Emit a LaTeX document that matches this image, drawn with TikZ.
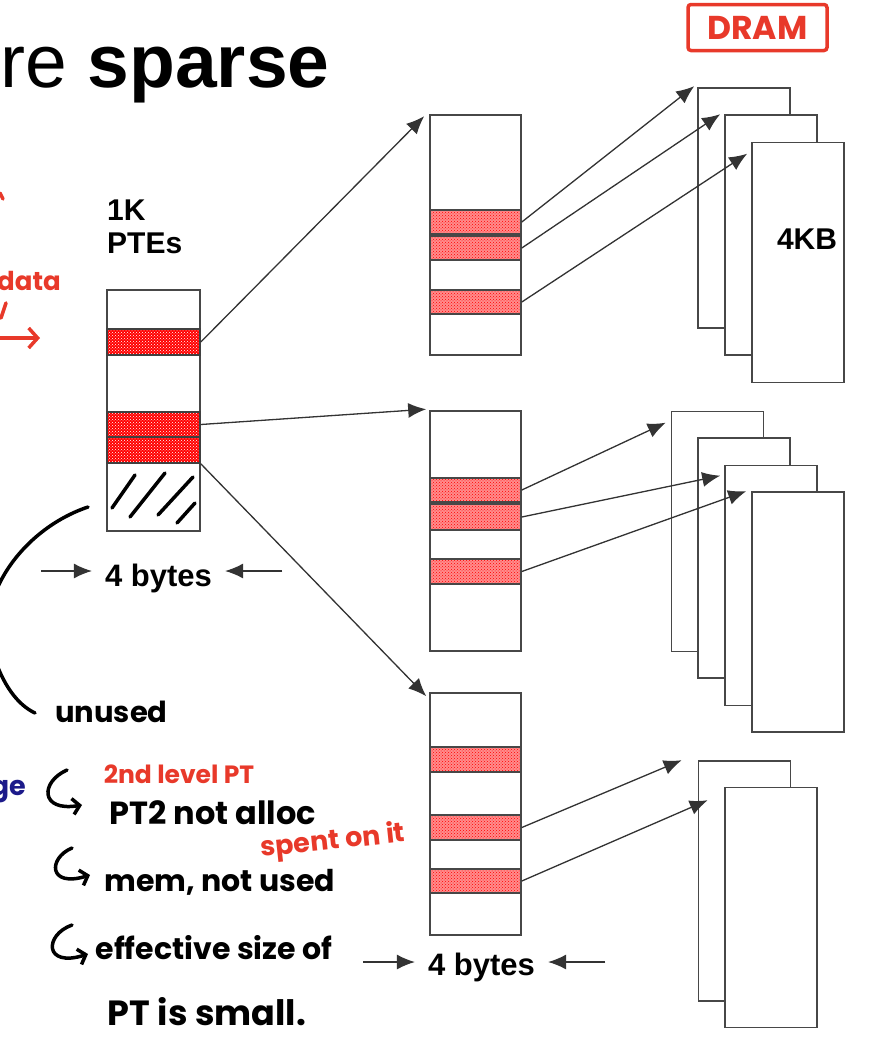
\documentclass[tikz,border=0pt]{standalone}
\usepackage{fontspec}
\setmainfont{Liberation Sans}
\newfontfamily\handfont{Poppins}
\usetikzlibrary{arrows.meta,patterns}
\definecolor{pen}{HTML}{E8392A}
\definecolor{ink}{HTML}{1C1A8A}

\begin{document}
\begin{tikzpicture}[x=1pt,y=-1pt,
  tbl/.style={draw=black!72, line width=1.6pt, fill=white, rectangle, minimum width=91pt, minimum height=240pt, inner sep=0pt},
  pg/.style={tbl, minimum width=92pt},
  hot/.style={draw=black!75, line width=1.6pt, rectangle, minimum width=93pt, inner sep=0pt, preaction={fill=red}, pattern=crosshatch dots, pattern color=white},
  warm/.style={draw=black!72, line width=1.6pt, rectangle, minimum width=91pt, inner sep=0pt, preaction={fill=red!45}, pattern=crosshatch dots, pattern color=red},
  lbl/.style={font=\bfseries\fontsize{30}{33}\selectfont, inner sep=0pt},
  ptr/.style={-{Latex[length=18pt,width=15pt]}, draw=black!80, fill=black, line width=1.3pt},
  hand/.style={line width=3.5pt, line cap=round, line join=round},
  note/.style={font=\handfont\bfseries\fontsize{#1}{#1}\selectfont, inner sep=0pt}]
\useasboundingbox (0,0) rectangle (885,1063);

\node[anchor=base west, inner sep=0pt, font=\fontsize{75}{80}\selectfont] (title) at (0,87) {re \textbf{sparse}};

\node[tbl, minimum width=93pt, minimum height=241pt] (t0) at (153.5,410.5) {};
\node[hot, minimum height=26pt] (p1) at (153.5,342) {};
\node[hot, minimum height=25pt] (p2) at (153.5,424.5) {};
\node[hot, minimum height=26pt] (p3) at (153.5,450) {};
\node[lbl, align=left, anchor=north west] (n0) at (107,200) {1K\\PTEs};

\node[lbl, font=\bfseries\fontsize{31}{33}\selectfont, inner xsep=13pt, anchor=base] (w1) at (158.5,586) {4 bytes};
\coordinate (w1l) at (41,571);
\coordinate (w1r) at (282,571);
\draw[ptr] (w1l) -- (w1l -| w1.west);
\draw[ptr] (w1r) -- (w1r -| w1.east);

\node[tbl] (ta) at (475.5,235) {};
\node[warm, minimum height=24pt] (ra1) at (475.5,222) {};
\node[warm, minimum height=24pt] (ra2) at (475.5,248) {};
\node[warm, minimum height=24pt] (ra3) at (475.5,302) {};

\node[tbl] (tb) at (475.5,531) {};
\node[warm, minimum height=24pt] (rb1) at (475.5,490) {};
\node[warm, minimum height=26pt] (rb2) at (475.5,517) {};
\node[warm, minimum height=25pt] (rb3) at (475.5,571.5) {};

\node[tbl, minimum height=242pt] (tc) at (475.5,814) {};
\node[warm, minimum height=25pt] (rc1) at (475.5,759.5) {};
\node[warm, minimum height=25pt] (rc2) at (475.5,827.5) {};
\node[warm, minimum height=24pt] (rc3) at (475.5,881) {};

\node[lbl, font=\bfseries\fontsize{31}{33}\selectfont, inner xsep=13pt, anchor=base] (w2) at (481.5,975) {4 bytes};
\coordinate (w2l) at (363,962);
\coordinate (w2r) at (605,962);
\draw[ptr] (w2l) -- (w2l -| w2.west);
\draw[ptr] (w2r) -- (w2r -| w2.east);

\node[pg] (a1) at (744,208) {};
\node[pg] (a2) at (771,235) {};
\node[pg] (a3) at (798,262.5) {};
\node[lbl] (kb) at (807,239) {4KB};

\node[pg] (b1) at (717.5,531.5) {};
\node[pg] (b2) at (744,558) {};
\node[pg] (b3) at (771,585.5) {};
\node[pg] (b4) at (798,612) {};

\node[pg] (c1) at (744.5,881) {};
\node[pg] (c2) at (771,907.5) {};

\draw[ptr] (p1.east) -- ([shift={(-5,2)}]ta.north west);
\draw[ptr] (p2.east) -- ([shift={(-3,-1)}]tb.north west);
\draw[ptr] (p3.south east) -- ([shift={(-3,4)}]tc.north west);
\draw[ptr] (ra1.east) -- ([shift={(-3,-1)}]a1.north west);
\draw[ptr] (ra2.east) -- ([shift={(-4,0)}]a2.north west);
\draw[ptr] (ra3.east) -- ([shift={(-4,12)}]a3.north west);
\draw[ptr] (rb1.east) -- ([shift={(-5,12)}]b1.north west);
\draw[ptr] (rb2.east) -- ([shift={(-4,11)}]b3.north west);
\draw[ptr] (rb3.east) -- ([shift={(-5,0)}]b4.north west);
\draw[ptr] (rc2.east) -- ([shift={(-16,0)}]c1.north west);
\draw[ptr] (rc3.east) -- ([shift={(10,40)}]c1.north west);

\draw[hand] (112,508) -- (135,475);
\draw[hand] (130,517) -- (165,473);
\draw[hand] (158,515) -- (193,477);
\draw[hand] (177,523) -- (195,503);

\node[draw=pen, line width=3.5pt, rounded corners=3pt, minimum width=139pt, minimum height=46pt, note=33, text=pen] (dram) at (757.5,27.5) {DRAM};

\node[note=26, text=pen, anchor=west] (data) at (-3,281) {data};
\draw[hand, pen] (0,193) -- (3,199);
\draw[hand, pen] (6,303) -- (1,318);
\draw[hand, pen, -{Straight Barb[length=9pt,width=20pt]}] (0,338) -- (40,338);

\draw[hand] (88,507) .. controls (20,530) and (-25,600) .. (-8,650) .. controls (2,685) and (18,705) .. (35,713);
\node[note=29, anchor=west] (unused) at (55,712) {unused};

\node[note=27, text=ink, anchor=east] (ge) at (26,792) {ge};
\draw[hand, -{Straight Barb[length=7pt,width=16pt]}] (67,770) .. controls (40,782) and (40,812) .. (82,805);
\draw[hand, -{Straight Barb[length=7pt,width=16pt]}] (72,848) .. controls (48,858) and (48,888) .. (90,875);
\draw[hand, -{Straight Barb[length=7pt,width=16pt]}] (72,925) .. controls (44,935) and (44,968) .. (88,954);

\node[note=25, text=pen] (lvl) at (179,774) {2nd level PT};
\node[note=32] (alloc) at (213,813) {PT2 not alloc};
\node[note=27, text=pen, rotate=6] (spent) at (333,842) {spent on it};
\node[note=30] (used) at (220,882) {mem, not used};
\node[note=30] (eff) at (214,948) {effective size of};
\node[note=35] (small) at (207,1012) {PT is small.};

\end{tikzpicture}
\end{document}
